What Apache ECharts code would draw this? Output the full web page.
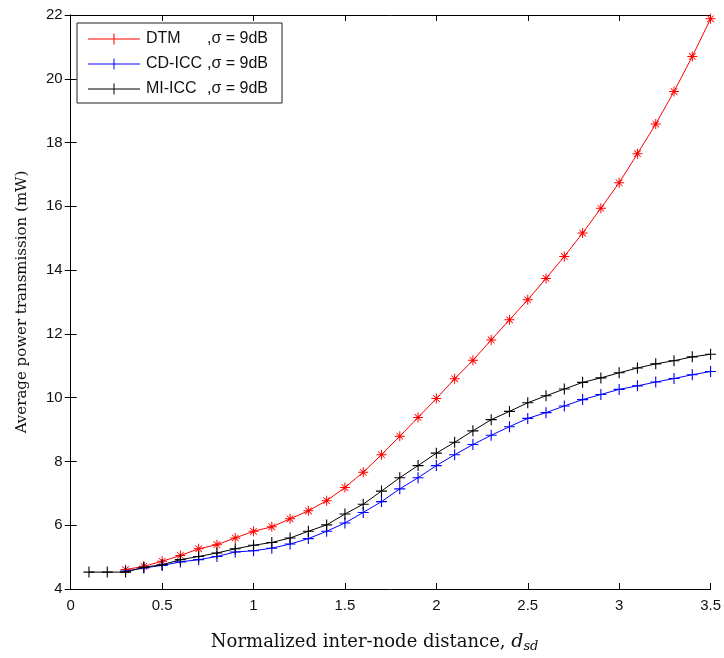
<!DOCTYPE html>
<html>
<head>
<meta charset="utf-8">
<script src="https://cdn.jsdelivr.net/npm/echarts@6/dist/echarts.min.js"></script>
<style>html,body{margin:0;padding:0;background:#fff}#c{width:724px;height:658px}</style>
</head>
<body>
<div id="c"></div>
<script>
// distances (normalized inter-node distance)
const xBlack = [0.1,0.2,0.3,0.4,0.5,0.6,0.7,0.8,0.9,1.0,1.1,1.2,1.3,1.4,1.5,1.6,1.7,1.8,1.9,2.0,2.1,2.2,2.3,2.4,2.5,2.6,2.7,2.8,2.9,3.0,3.1,3.2,3.3,3.4,3.5];
const xRedBlue = [0.3,0.4,0.5,0.6,0.7,0.8,0.9,1.0,1.1,1.2,1.3,1.4,1.5,1.6,1.7,1.8,1.9,2.0,2.1,2.2,2.3,2.4,2.5,2.6,2.7,2.8,2.9,3.0,3.1,3.2,3.3,3.4,3.5];
const dtm   = [4.61,4.71,4.87,5.05,5.26,5.39,5.60,5.81,5.95,6.20,6.45,6.77,7.18,7.66,8.21,8.79,9.38,9.97,10.59,11.17,11.81,12.44,13.07,13.74,14.43,15.16,15.94,16.74,17.65,18.58,19.60,20.70,21.88];
const cdicc = [4.56,4.66,4.74,4.85,4.92,5.02,5.16,5.20,5.28,5.41,5.58,5.81,6.07,6.40,6.74,7.14,7.49,7.87,8.21,8.53,8.82,9.09,9.35,9.53,9.74,9.94,10.10,10.26,10.37,10.49,10.60,10.72,10.82];
const miicc = [4.53,4.53,4.53,4.68,4.76,4.92,5.02,5.13,5.26,5.37,5.46,5.60,5.81,6.01,6.35,6.66,7.07,7.49,7.87,8.26,8.60,8.96,9.31,9.57,9.84,10.06,10.27,10.48,10.62,10.78,10.93,11.06,11.16,11.28,11.36];
const seriesNames = ['DTM','CD-ICC','MI-ICC'];
const sigmaText = ',σ = 9dB';

const pair = (xs, ys) => ys.map((v, i) => [xs[i], v]);
const plusSym = 'path://M4.5,0H5.5V4.5H10V5.5H5.5V10H4.5V5.5H0V4.5H4.5Z';
const starSym = 'path://M4.5,0H5.5V4.5H10V5.5H5.5V10H4.5V5.5H0V4.5H4.5Z' +
  'M2,1.4L8.6,8L8,8.6L1.4,2Z' +
  'M8,1.4L8.6,2L2,8.6L1.4,8Z';
const legendSym = 'path://M0,6.5H25.5V1.5H26.5V6.5H52V7.5H26.5V12.5H25.5V7.5H0Z';

const axisLine = {show: true, lineStyle: {color: '#000', width: 1}};
const tickIn = {show: true, inside: true, length: 6, lineStyle: {color: '#000', width: 1}};
const sans = 'Liberation Sans, Arial, sans-serif';
const serif = 'DejaVu Serif, Liberation Serif, serif';
const labelFont = {fontFamily: sans, fontSize: 15, color: '#111'};

const chart = echarts.init(document.getElementById('c'), null, {renderer: 'canvas'});
chart.setOption({
  animation: false,
  backgroundColor: '#fff',
  grid: {left: 70.7, right: 12.3, top: 15, bottom: 67, containLabel: false},
  legend: {
    left: 77, top: 23, orient: 'vertical',
    backgroundColor: '#fff', borderColor: '#222', borderWidth: 1,
    padding: [8, 14, 6, 11], itemGap: 9, itemWidth: 52, itemHeight: 14,
    symbolKeepAspect: true,
    data: seriesNames.map(n => ({name: n, icon: legendSym})),
    formatter: n => '{a|' + n + '}{b|' + sigmaText + '}',
    textStyle: {
      fontFamily: sans, fontSize: 16, color: '#111', padding: [0, 0, 0, 1],
      rich: {
        a: {width: 61, fontFamily: sans, fontSize: 16, color: '#111'},
        b: {fontFamily: sans, fontSize: 16, color: '#111'}
      }
    }
  },
  xAxis: [{
    type: 'value', min: 0, max: 3.5, interval: 0.5, position: 'bottom',
    axisLine, axisTick: tickIn, splitLine: {show: false},
    axisLabel: Object.assign({margin: 9, formatter: v => String(v)}, labelFont),
    name: 'Normalized inter-node distance, {i|d}{s|sd}',
    nameLocation: 'middle', nameGap: 42,
    nameTextStyle: {
      fontFamily: serif, fontSize: 18, color: '#111', padding: [0, 32, 0, 0],
      rich: {
        i: {fontFamily: serif, fontStyle: 'italic', fontSize: 19, color: '#111'},
        s: {fontFamily: serif, fontStyle: 'italic', fontSize: 13, color: '#111', verticalAlign: 'bottom', padding: [9, 0, 0, 0]}
      }
    }
  }, {
    type: 'value', min: 0, max: 3.5, interval: 0.5, position: 'top',
    axisLine, axisTick: tickIn, axisLabel: {show: false}, splitLine: {show: false}
  }],
  yAxis: [{
    type: 'value', min: 4, max: 22, interval: 2, position: 'left',
    axisLine, axisTick: tickIn, splitLine: {show: false},
    axisLabel: Object.assign({margin: 8}, labelFont),
    name: 'Average power transmission (mW)',
    nameLocation: 'middle', nameGap: 41, nameRotate: 90,
    nameTextStyle: {fontFamily: serif, fontSize: 15, color: '#111'}
  }, {
    type: 'value', min: 4, max: 22, interval: 2, position: 'right',
    axisLine, axisTick: tickIn, axisLabel: {show: false}, splitLine: {show: false}
  }],
  series: [
    {name: seriesNames[0], type: 'line', data: pair(xRedBlue, dtm), symbol: starSym, symbolSize: 10,
     lineStyle: {color: '#ff0000', width: 1}, itemStyle: {color: '#ff0000'}, z: 3},
    {name: seriesNames[1], type: 'line', data: pair(xRedBlue, cdicc), symbol: plusSym, symbolSize: 11,
     lineStyle: {color: '#0000ff', width: 1}, itemStyle: {color: '#0000ff'}, z: 4},
    {name: seriesNames[2], type: 'line', data: pair(xBlack, miicc), symbol: plusSym, symbolSize: 11,
     lineStyle: {color: '#000000', width: 1}, itemStyle: {color: '#000000'}, z: 5}
  ]
});
</script>
</body>
</html>
